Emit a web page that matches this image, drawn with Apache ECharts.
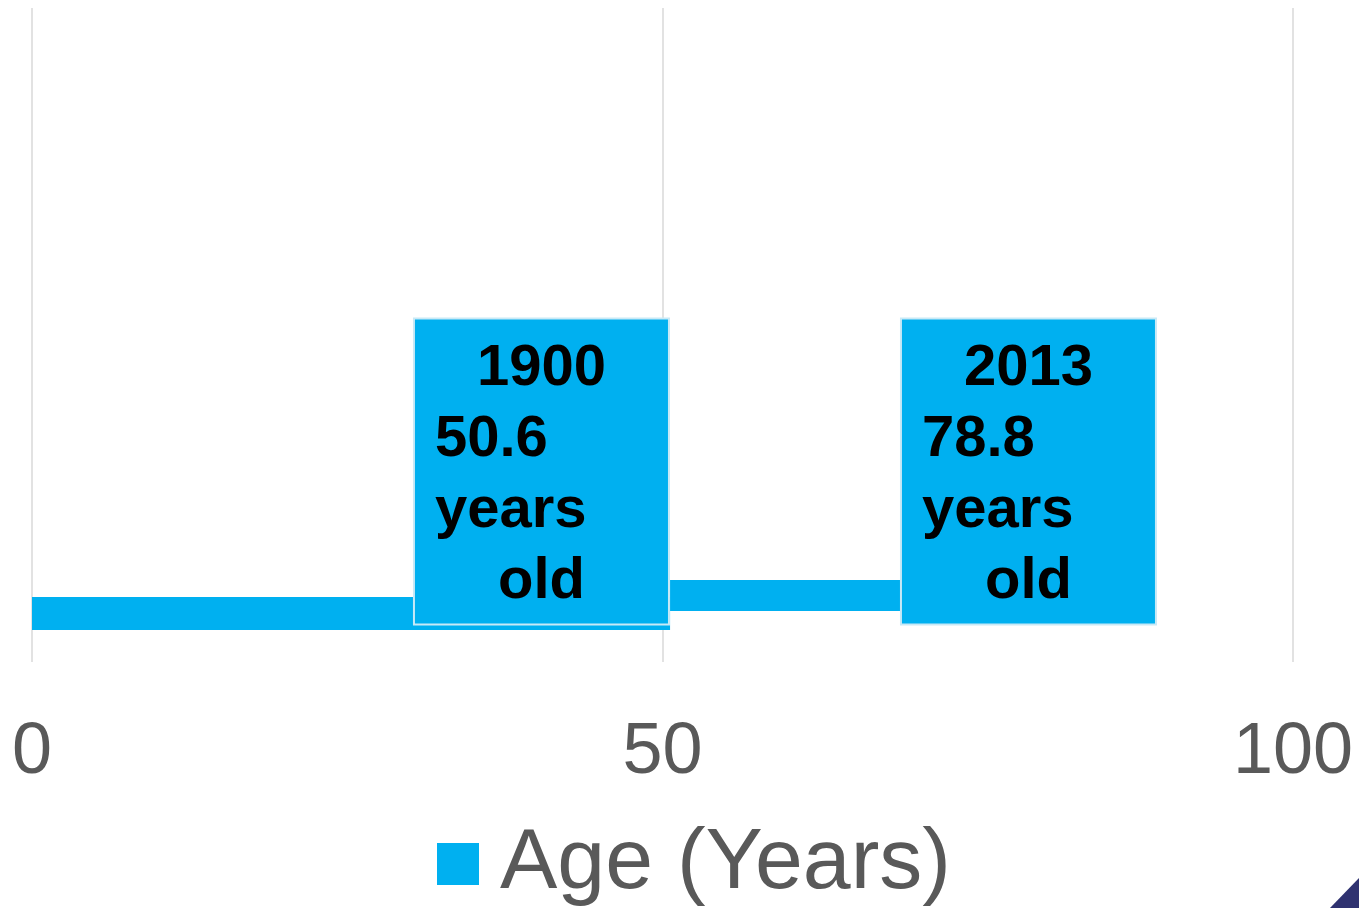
<!DOCTYPE html>
<html>
<head>
<meta charset="utf-8">
<script src="https://cdn.jsdelivr.net/npm/echarts@6/dist/echarts.min.js"></script>
<style>
html,body{margin:0;padding:0;background:#fff;}
#chart{width:1359px;height:908px;}
</style>
</head>
<body>
<div id="chart"></div>
<script>
// ---- data ----
var years = ['1900', '2013'];
var ages = [50.6, 78.8];
var starts = [0, 50.6];          // where each bar begins on the age axis
var seriesName = 'Age (Years)';
var xMin = 0, xMax = 100, xInterval = 50;

// ---- layout / style ----
var FONT = '"Liberation Sans", Arial, sans-serif';
var BLUE = '#00B0F0';
var barBands = [{ top: 597, height: 33 }, { top: 580, height: 31 }];
var labelOffsets = [[-128.6, -142], [2.8, -124]];

var chart = echarts.init(document.getElementById('chart'));

var grids = [{ left: 32, right: 66, top: 8, bottom: 246 }];
var xAxes = [{
  gridIndex: 0, type: 'value', min: xMin, max: xMax, interval: xInterval,
  axisLine: { show: false }, axisTick: { show: false },
  splitLine: { show: true, lineStyle: { color: '#D9D9D9', width: 1.5 } },
  axisLabel: { fontFamily: FONT, fontSize: 72, color: '#595959', margin: 55 }
}];
var yAxes = [{ gridIndex: 0, type: 'value', show: false }];
var series = [];

years.forEach(function (yr, i) {
  var g = i + 1;
  grids.push({ left: 32, right: 66, top: barBands[i].top, height: barBands[i].height });
  xAxes.push({ gridIndex: g, type: 'value', min: xMin, max: xMax, interval: xInterval, show: false });
  yAxes.push({ gridIndex: g, type: 'category', data: [yr], show: false });
  series.push({
    name: 'base' + i, type: 'bar', stack: 'age' + i, xAxisIndex: g, yAxisIndex: g,
    data: [starts[i]], barWidth: '100%',
    itemStyle: { color: 'rgba(0,0,0,0)' }, silent: true
  });
  series.push({
    name: seriesName, type: 'bar', stack: 'age' + i, xAxisIndex: g, yAxisIndex: g,
    barWidth: '100%',
    itemStyle: { color: BLUE },
    data: [+(ages[i] - starts[i]).toFixed(1)],
    label: {
      show: true,
      position: 'right',
      distance: 0,
      offset: labelOffsets[i],
      align: 'center',
      verticalAlign: 'middle',
      width: 213,
      padding: [14, 20, 6, 20],
      backgroundColor: BLUE,
      borderColor: '#C8E9F6',
      borderWidth: 2,
      formatter: '{c|' + yr + '}\n{l|' + ages[i] + '}\n{l|years}\n{c|old}',
      rich: {
        c: { align: 'center', fontFamily: FONT, fontSize: 58, fontWeight: 'bold', lineHeight: 71, color: '#000' },
        l: { align: 'left', fontFamily: FONT, fontSize: 58, fontWeight: 'bold', lineHeight: 71, color: '#000' }
      }
    }
  });
});

var option = {
  animation: false,
  backgroundColor: '#fff',
  grid: grids,
  xAxis: xAxes,
  yAxis: yAxes,
  legend: {
    data: [seriesName],
    left: 432, top: 816,
    itemWidth: 42, itemHeight: 42,
    icon: 'rect',
    textStyle: { fontFamily: FONT, fontSize: 86, color: '#595959', padding: [4, 0, 0, 16] }
  },
  series: series,
  graphic: [
    {
      type: 'polygon',
      shape: { points: [[1330, 908], [1359, 878], [1359, 908]] },
      style: { fill: '#2F3270' },
      z: 100
    }
  ]
};

chart.setOption(option);
</script>
</body>
</html>
